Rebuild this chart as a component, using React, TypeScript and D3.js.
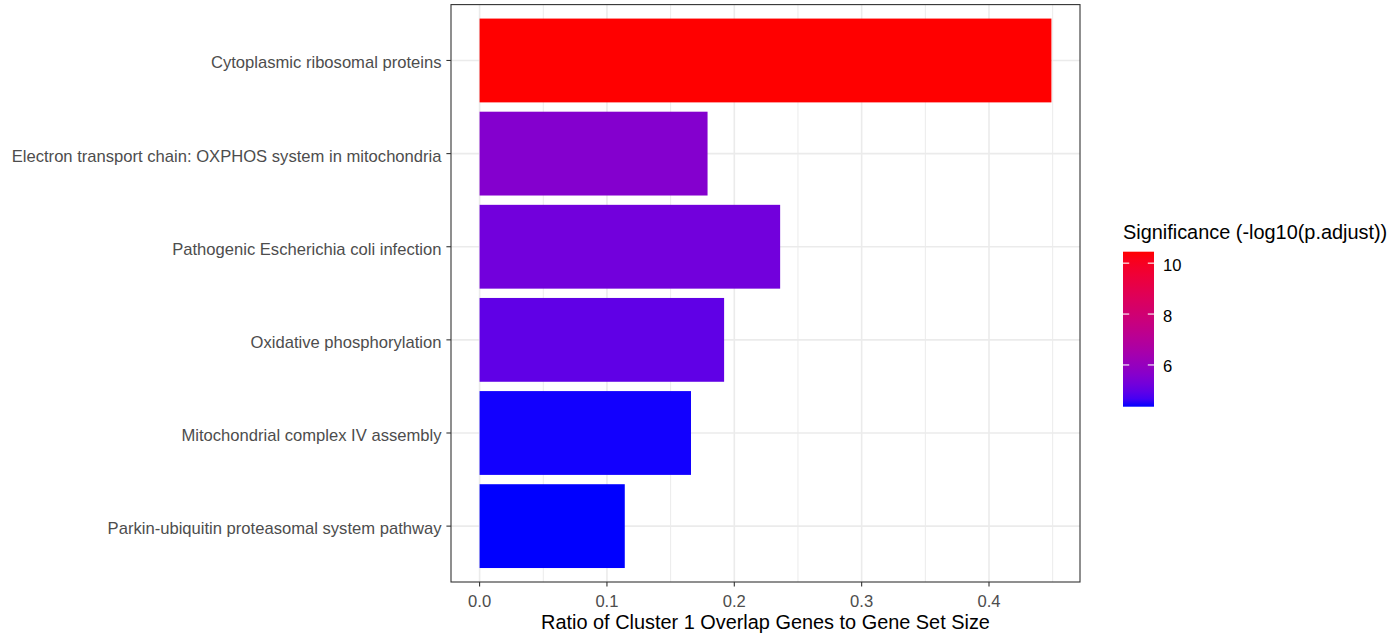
import React from "react";
import * as d3 from "d3";

// Gene set enrichment results (top to bottom)
const categories = [
  "Cytoplasmic ribosomal proteins",
  "Electron transport chain: OXPHOS system in mitochondria",
  "Pathogenic Escherichia coli infection",
  "Oxidative phosphorylation",
  "Mitochondrial complex IV assembly",
  "Parkin-ubiquitin proteasomal system pathway",
];
const ratios = [0.449, 0.179, 0.236, 0.192, 0.166, 0.114];
const significance = [10.45, 5.58, 5.24, 4.97, 4.39, 4.36];

const xTicks = [0, 0.1, 0.2, 0.3, 0.4];
const xMinor = [0.05, 0.15, 0.25, 0.35, 0.45];
const legendTicks = [6, 8, 10];

const xTitle = "Ratio of Cluster 1 Overlap Genes to Gene Set Size";
const legendTitle = "Significance (-log10(p.adjust))";

const W = 1391;
const H = 637;
const panel = { left: 451, right: 1080, top: 4.6, bottom: 582 };
const FONT = "'Liberation Sans', Arial, sans-serif";
const AXIS_TEXT = 16.6;
const TITLE_TEXT = 19.9;

export default function App() {
  const maxR = d3.max(ratios) as number;
  const x = d3
    .scaleLinear()
    .domain([-0.05 * maxR, maxR * 1.05])
    .range([panel.left, panel.right]);

  const y = d3
    .scaleBand<string>()
    .domain(categories)
    .range([panel.top, panel.bottom])
    .paddingInner(0.1)
    .paddingOuter(0.15);

  const sExt = d3.extent(significance) as [number, number];
  const color = d3
    .scaleLinear<string>()
    .domain(sExt)
    .range(["blue", "red"])
    .interpolate(d3.interpolateLab);

  // colour bar
  const leg = { x: 1123, y0: 251.7, y1: 406.7, w: 31 };
  const ly = d3.scaleLinear().domain(sExt).range([leg.y1, leg.y0]);
  const stops = d3.range(0, 1.0001, 0.05);

  return (
    <svg
      width={W}
      height={H}
      style={{ position: "absolute", left: 0, top: 0, background: "#fff" }}
      fontFamily={FONT}
    >
      <defs>
        <linearGradient id="sigGrad" x1="0" y1="1" x2="0" y2="0">
          {stops.map((t) => (
            <stop
              key={t}
              offset={t}
              stopColor={color(sExt[0] + t * (sExt[1] - sExt[0]))}
            />
          ))}
        </linearGradient>
      </defs>
      <rect width={W} height={H} fill="#fff" />

      {/* grid */}
      {xMinor.map((v) =>
        x(v) < panel.right ? (
          <line
            key={"mn" + v}
            x1={x(v)}
            x2={x(v)}
            y1={panel.top}
            y2={panel.bottom}
            stroke="#EBEBEB"
            strokeWidth={1}
          />
        ) : null
      )}
      {xTicks.map((v) => (
        <line
          key={"mj" + v}
          x1={x(v)}
          x2={x(v)}
          y1={panel.top}
          y2={panel.bottom}
          stroke="#EBEBEB"
          strokeWidth={1.6}
        />
      ))}
      {categories.map((c) => {
        const cy = (y(c) as number) + y.bandwidth() / 2;
        return (
          <line
            key={"gy" + c}
            x1={panel.left}
            x2={panel.right}
            y1={cy}
            y2={cy}
            stroke="#EBEBEB"
            strokeWidth={1.6}
          />
        );
      })}

      {/* bars */}
      {categories.map((c, i) => (
        <rect
          key={"b" + c}
          x={x(0)}
          y={y(c)}
          width={x(ratios[i]) - x(0)}
          height={y.bandwidth()}
          fill={color(significance[i])}
        />
      ))}

      {/* panel border */}
      <rect
        x={panel.left}
        y={panel.top}
        width={panel.right - panel.left}
        height={panel.bottom - panel.top}
        fill="none"
        stroke="#333333"
        strokeWidth={1.1}
      />

      {/* y axis */}
      {categories.map((c) => {
        const cy = (y(c) as number) + y.bandwidth() / 2;
        return (
          <g key={"yl" + c}>
            <line
              x1={panel.left - 4.6}
              x2={panel.left}
              y1={cy}
              y2={cy}
              stroke="#333333"
              strokeWidth={1.1}
            />
            <text
              x={panel.left - 9.5}
              y={cy + 2}
              dy="0.36em"
              textAnchor="end"
              fontSize={AXIS_TEXT}
              fill="#4D4D4D"
            >
              {c}
            </text>
          </g>
        );
      })}

      {/* x axis */}
      {xTicks.map((v) => (
        <g key={"xt" + v}>
          <line
            x1={x(v)}
            x2={x(v)}
            y1={panel.bottom}
            y2={panel.bottom + 4.6}
            stroke="#333333"
            strokeWidth={1.1}
          />
          <text
            x={x(v)}
            y={panel.bottom + 24.5}
            textAnchor="middle"
            fontSize={AXIS_TEXT}
            fill="#4D4D4D"
          >
            {d3.format(".1f")(v)}
          </text>
        </g>
      ))}
      <text
        x={(panel.left + panel.right) / 2}
        y={629}
        textAnchor="middle"
        fontSize={TITLE_TEXT}
        fill="#000"
      >
        {xTitle}
      </text>

      {/* legend */}
      <text x={leg.x} y={239} fontSize={TITLE_TEXT} fill="#000">
        {legendTitle}
      </text>
      <rect
        x={leg.x}
        y={leg.y0}
        width={leg.w}
        height={leg.y1 - leg.y0}
        fill="url(#sigGrad)"
      />
      {legendTicks.map((v) => (
        <g key={"lt" + v}>
          <line
            x1={leg.x}
            x2={leg.x + leg.w / 5}
            y1={ly(v)}
            y2={ly(v)}
            stroke="#fff"
            strokeWidth={1.1}
          />
          <line
            x1={leg.x + leg.w - leg.w / 5}
            x2={leg.x + leg.w}
            y1={ly(v)}
            y2={ly(v)}
            stroke="#fff"
            strokeWidth={1.1}
          />
          <text
            x={leg.x + leg.w + 9}
            y={ly(v) + 1.5}
            dy="0.36em"
            fontSize={AXIS_TEXT}
            fill="#000"
          >
            {v}
          </text>
        </g>
      ))}
    </svg>
  );
}
